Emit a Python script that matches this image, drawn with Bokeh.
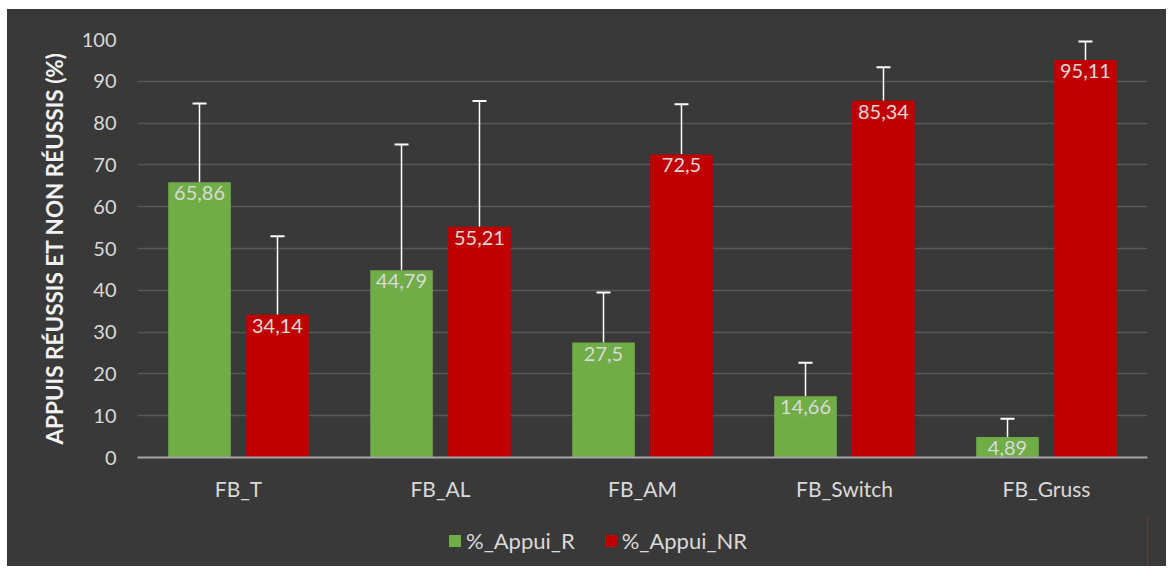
from bokeh.plotting import figure
from bokeh.layouts import column
from bokeh.models import ColumnDataSource, FactorRange, Whisker, Legend, LegendItem, FixedTicker, TeeHead, Range1d
from bokeh.transform import dodge
from bokeh.core.properties import value
from bokeh.embed import file_html
from bokeh.resources import INLINE

categories = ["FB_T", "FB_AL", "FB_AM", "FB_Switch", "FB_Gruss"]
appui_r = [65.86, 44.79, 27.5, 14.66, 4.89]
appui_nr = [34.14, 55.21, 72.5, 85.34, 95.11]
ecart = [18.8, 30.1, 12.0, 8.0, 4.4]
y_ticks = [0, 10, 20, 30, 40, 50, 60, 70, 80, 90, 100]
series_names = ["%_Appui_R", "%_Appui_NR"]

FONT = "Lato"
BG = "#393939"
TXT = "#d9d9d9"
GREEN = "#70ad47"
RED = "#c00000"

src = ColumnDataSource(dict(
    cat=categories,
    r=appui_r,
    nr=appui_nr,
    r_up=[v + e for v, e in zip(appui_r, ecart)],
    nr_up=[v + e for v, e in zip(appui_nr, ecart)],
    r_lbl=[str(v).replace(".", ",") for v in appui_r],
    nr_lbl=[str(v).replace(".", ",") for v in appui_nr],
))

p = figure(width=1159, height=507, x_range=FactorRange(factors=categories, range_padding=0),
           y_range=(0, 100), output_backend="svg", toolbar_location=None,
           min_border_left=130, min_border_right=19, min_border_top=30, min_border_bottom=59)
p.margin = (0, 0, 0, 0)
p.background_fill_color = BG
p.border_fill_color = BG
p.outline_line_color = None

off = 0.193
bw = 0.31
xr = dodge("cat", -off, range=p.x_range)
xn = dodge("cat", off, range=p.x_range)

p.vbar(x=xr, top="r", width=bw, source=src, fill_color=GREEN, line_color=None)
p.vbar(x=xn, top="nr", width=bw, source=src, fill_color=RED, line_color=None)

for base, lo, up in [(xr, "r", "r_up"), (xn, "nr", "nr_up")]:
    w = Whisker(base=base, lower=lo, upper=up, source=src, dimension="height",
                line_color="white", line_width=1.5,
                upper_head=TeeHead(size=14, line_color="white", line_width=2),
                lower_head=None)
    p.add_layout(w)

for xx, yy, ll in [(xr, "r", "r_lbl"), (xn, "nr", "nr_lbl")]:
    p.text(x=xx, y=yy, text=ll, source=src, text_align="center", text_baseline="top",
           y_offset=4, text_color=TXT, text_font=value(FONT), text_font_size="20px")

p.xgrid.grid_line_color = None
p.ygrid.grid_line_color = "#595959"
p.ygrid.grid_line_width = 1.5
p.yaxis.ticker = FixedTicker(ticks=y_ticks)

p.yaxis.axis_line_color = None
p.yaxis.major_tick_line_color = None
p.yaxis.minor_tick_line_color = None
p.yaxis.major_label_text_color = TXT
p.yaxis.major_label_text_font = FONT
p.yaxis.major_label_text_font_size = "20px"
p.yaxis.major_label_standoff = 15
p.yaxis.axis_label = "APPUIS RÉUSSIS ET NON RÉUSSIS (%)"
p.yaxis.axis_label_text_color = "#f2f2f2"
p.yaxis.axis_label_text_font = FONT
p.yaxis.axis_label_text_font_style = "bold"
p.yaxis.axis_label_text_font_size = "22.5px"
p.yaxis.axis_label_standoff = 11

p.xaxis.axis_line_color = "#a6a6a6"
p.xaxis.axis_line_width = 2
p.xaxis.major_tick_line_color = None
p.xaxis.minor_tick_line_color = None
p.xaxis.major_label_text_color = TXT
p.xaxis.major_label_text_font = FONT
p.xaxis.major_label_text_font_size = "21px"
p.xaxis.major_label_standoff = 12

# legend strip
lg = figure(width=1159, height=50, x_range=Range1d(0, 1), y_range=Range1d(0, 1),
            output_backend="svg", toolbar_location=None, x_axis_type=None, y_axis_type=None,
            min_border_left=130, min_border_right=19, min_border_top=0, min_border_bottom=0)
lg.margin = (0, 0, 0, 0)
lg.background_fill_alpha = 0
lg.border_fill_alpha = 0
lg.outline_line_color = None
h1 = lg.vbar(x=[5], top=[1], width=0.1, fill_color=GREEN, line_color=None)
h2 = lg.vbar(x=[5], top=[1], width=0.1, fill_color=RED, line_color=None)
legend = Legend(items=[LegendItem(label=series_names[0], renderers=[h1]),
                       LegendItem(label=series_names[1], renderers=[h2])],
                orientation="horizontal", location=(310, 12),
                background_fill_alpha=0, border_line_color=None,
                label_text_color=TXT, label_text_font=FONT, label_text_font_size="22px",
                glyph_width=15, glyph_height=15, spacing=28, label_standoff=4,
                margin=0, padding=0)
lg.add_layout(legend, "center")

layout = column(p, lg, spacing=0)
layout.margin = (9, 0, 0, 7)
layout.styles = {"background-color": BG}

open("out.html", "w").write(file_html(layout, INLINE))
